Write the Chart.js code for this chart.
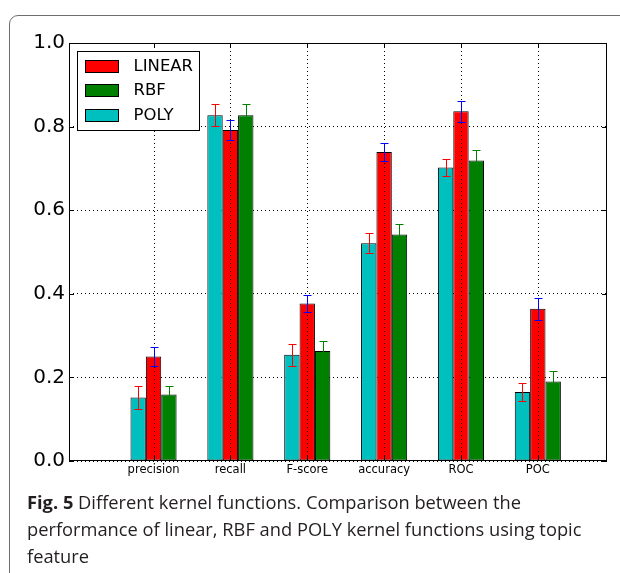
<!DOCTYPE html>
<html>
<head>
<meta charset="utf-8">
<script src="https://cdn.jsdelivr.net/npm/chart.js@4.4.0/dist/chart.umd.min.js"></script>
<style>
  body { margin: 0; background: #fff; width: 620px; height: 573px; overflow: hidden; position: relative; }
  #frame { position: absolute; left: 9px; top: 15px; width: 700px; height: 700px; border: 1px solid #6e6e6e; border-radius: 9px; }
  #wrap { position: absolute; left: 0; top: 0; width: 620px; height: 490px; }
  #caption { position: absolute; left: 27px; top: 488px; font-family: "Open Sans", sans-serif; font-size: 18.3px; line-height: 27px; color: #231f20; white-space: nowrap; }
</style>
</head>
<body>
<div id="frame"></div>
<div id="wrap"><canvas id="myChart" width="620" height="490"></canvas></div>
<div id="caption"><b>Fig. 5</b> Different kernel functions. Comparison between the<br>performance of linear, RBF and POLY kernel functions using topic<br>feature</div>
<script>
const categories = ['precision', 'recall', 'F-score', 'accuracy', 'ROC', 'POC'];
const polyValues = [0.152, 0.827, 0.254, 0.521, 0.702, 0.165];
const polyErrors = [0.027, 0.026, 0.027, 0.024, 0.020, 0.022];
const linearValues = [0.250, 0.792, 0.377, 0.739, 0.837, 0.364];
const linearErrors = [0.022, 0.024, 0.020, 0.021, 0.025, 0.026];
const rbfValues = [0.159, 0.827, 0.263, 0.542, 0.719, 0.190];
const rbfErrors = [0.021, 0.026, 0.023, 0.025, 0.026, 0.025];
const yTicks = [0, 0.2, 0.4, 0.6, 0.8, 1.0];
const legendOrder = [1, 2, 0]; // LINEAR, RBF, POLY

const ctx = document.getElementById('myChart');

function points(values) {
    return values.map((v, i) => ({x: i, y: v}));
}

// error bars, dotted vertical grid on top, axes box and inward ticks
const overlay = {
    id: 'overlay',
    afterDatasetsDraw(chart) {
        const c = chart.ctx;
        const a = chart.chartArea;
        const xs = chart.scales.x;
        const ys = chart.scales.y;
        c.save();

        c.strokeStyle = '#000';
        c.lineWidth = 1;
        c.setLineDash([1, 3]);
        for (let i = 0; i < categories.length; i++) {
            const px = Math.round(xs.getPixelForValue(i)) + 0.5;
            c.beginPath();
            c.moveTo(px, a.top);
            c.lineTo(px, a.bottom);
            c.stroke();
        }
        c.setLineDash([]);

        chart.data.datasets.forEach((ds, di) => {
            const meta = chart.getDatasetMeta(di);
            c.strokeStyle = ds.errColor;
            meta.data.forEach((bar, j) => {
                const v = ds.data[j].y;
                const e = ds.errors[j];
                const px = Math.round(bar.x) + 0.5;
                const top = Math.round(ys.getPixelForValue(v + e)) + 0.5;
                const bot = Math.round(ys.getPixelForValue(v - e)) + 0.5;
                c.beginPath();
                c.moveTo(px, top); c.lineTo(px, bot);
                c.moveTo(px - 4, top); c.lineTo(px + 4, top);
                c.moveTo(px - 4, bot); c.lineTo(px + 4, bot);
                c.stroke();
            });
        });

        c.strokeStyle = '#000';
        c.beginPath();
        for (let i = 0; i < categories.length; i++) {
            const px = Math.round(xs.getPixelForValue(i)) + 0.5;
            c.moveTo(px, a.top); c.lineTo(px, a.top + 5);
            c.moveTo(px, a.bottom); c.lineTo(px, a.bottom - 5);
        }
        yTicks.forEach(t => {
            const py = Math.round(ys.getPixelForValue(t)) + 0.5;
            c.moveTo(a.left, py); c.lineTo(a.left + 5, py);
            c.moveTo(a.right, py); c.lineTo(a.right - 5, py);
        });
        c.stroke();
        c.strokeRect(Math.round(a.left) + 0.5, Math.round(a.top) + 0.5,
            Math.round(a.right - a.left) - 1, Math.round(a.bottom - a.top) - 1);
        c.restore();
    },
    afterDraw(chart) {
        const c = chart.ctx;
        const a = chart.chartArea;
        const bx = Math.round(a.left) + 8.5;
        const by = Math.round(a.top) + 8.5;
        c.save();
        c.fillStyle = '#fff';
        c.strokeStyle = '#000';
        c.lineWidth = 1;
        c.fillRect(bx, by, 122, 79);
        c.strokeRect(bx, by, 122, 79);
        c.font = '16.5px "DejaVu Sans"';
        c.textBaseline = 'middle';
        legendOrder.forEach((di, k) => {
            const ds = chart.data.datasets[di];
            const cy = by + 14 + k * 24.5;
            c.fillStyle = ds.backgroundColor;
            c.fillRect(bx + 8, Math.round(cy - 6) + 0.5, 33, 12);
            c.strokeRect(bx + 8, Math.round(cy - 6) + 0.5, 33, 12);
            c.fillStyle = '#000';
            c.fillText(ds.label, bx + 56, cy + 1);
        });
        c.restore();
    }
};

new Chart(ctx, {
    type: 'bar',
    data: {
        datasets: [{
            label: 'POLY',
            data: points(polyValues),
            errors: polyErrors,
            errColor: '#ff0000',
            backgroundColor: '#00bfbf',
            borderColor: '#000',
            borderWidth: 1,
            borderSkipped: false
        }, {
            label: 'LINEAR',
            data: points(linearValues),
            errors: linearErrors,
            errColor: '#0000ff',
            backgroundColor: '#ff0000',
            borderColor: '#000',
            borderWidth: 1,
            borderSkipped: false
        }, {
            label: 'RBF',
            data: points(rbfValues),
            errors: rbfErrors,
            errColor: '#008000',
            backgroundColor: '#008000',
            borderColor: '#000',
            borderWidth: 1,
            borderSkipped: false
        }]
    },
    options: {
        responsive: false,
        animation: false,
        layout: {padding: {top: 43, right: 13, left: 0, bottom: 0}},
        datasets: {bar: {categoryPercentage: 0.6, barPercentage: 1}},
        plugins: {legend: {display: false}, tooltip: {enabled: false}},
        scales: {
            x: {
                type: 'linear',
                min: -1.1,
                max: 5.9,
                offset: false,
                afterBuildTicks: s => { s.ticks = categories.map((c, i) => ({value: i})); },
                afterFit: s => { s.height = 29; },
                grid: {display: false, offset: false, drawTicks: false},
                border: {display: false},
                ticks: {
                    callback: v => categories[v],
                    font: {family: 'DejaVu Sans', size: 11.5},
                    color: '#000',
                    padding: 2,
                    maxRotation: 0,
                    autoSkip: false
                }
            },
            y: {
                min: 0,
                max: 1,
                afterBuildTicks: s => { s.ticks = yTicks.map(v => ({value: v})); },
                afterFit: s => { s.width = 69; },
                grid: {color: '#000', lineWidth: 1, drawTicks: false},
                border: {display: false, dash: [1, 3]},
                ticks: {
                    callback: v => v.toFixed(1),
                    font: {family: 'DejaVu Sans', size: 20},
                    color: '#000',
                    padding: 4
                }
            }
        }
    },
    plugins: [overlay]
});
</script>
</body>
</html>
